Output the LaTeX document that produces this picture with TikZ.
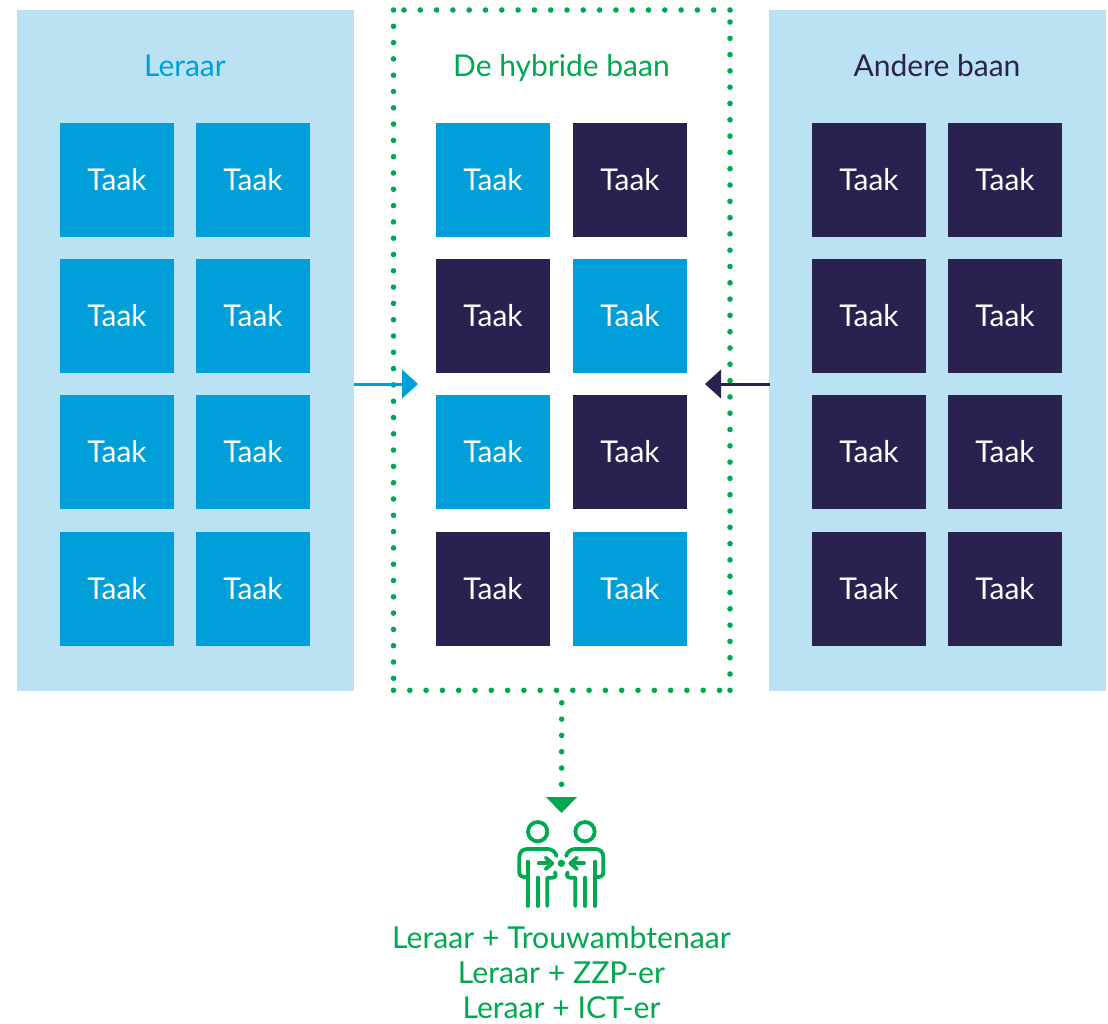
\documentclass[tikz,border=0pt]{standalone}
\usepackage{fontspec}
\setmainfont{Lato}
\usetikzlibrary{arrows.meta}
\definecolor{pale}{HTML}{BBE2F3}
\definecolor{lblue}{HTML}{009FDA}
\definecolor{navy}{HTML}{29214F}
\definecolor{hgreen}{HTML}{00A84F}
\tikzset{
  panel/.style={fill=pale,minimum width=337pt,minimum height=681pt,inner sep=0pt,outer sep=0pt},
  hybridbox/.style={minimum width=336.5pt,minimum height=680.3pt,inner sep=0pt,outer sep=0pt},
  dotline/.style={draw=hgreen,line width=5.6pt,line cap=round,dash pattern=on 0pt off 16.3pt},
  taskbox/.style={minimum size=114pt,inner sep=0pt,outer sep=0pt,text=white,font=\fontsize{30}{34}\selectfont},
  title/.style={anchor=base,inner sep=0pt,font=\fontsize{30}{34}\selectfont},
  caption/.style={anchor=base,inner sep=0pt,text=hgreen,font=\fontsize{30.2}{34}\selectfont},
  blueflow/.style={draw=lblue,line width=3pt,-{Triangle[length=16pt,width=29pt,line width=0pt,fill=lblue]}},
  navyflow/.style={draw=navy,line width=3pt,-{Triangle[length=16pt,width=29pt,line width=0pt,fill=navy]}},
  icon/.style={draw=hgreen,line width=3.8pt,line cap=round,line join=round},
}
\begin{document}
\begin{tikzpicture}[x=1pt,y=-1pt]
\useasboundingbox (0,0) rectangle (1108,1023);
% panels
\node[panel] (leraar) at (185.5,350.5) {};
\node[panel] (andere) at (937.5,350.5) {};
\node[hybridbox] (hybrid) at (561.75,350.15) {};
% dotted frame
\draw[dotline] (hybrid.north east) -- (hybrid.north west);
\draw[dotline] (hybrid.south east) -- (hybrid.north east);
\draw[dotline] (hybrid.north west) -- (hybrid.south west);
\draw[dotline] (hybrid.south west) -- (hybrid.south east);
% titles
\node[title,text=lblue] (t1) at (185,76) {Leraar};
\node[title,text=hgreen] (t2) at (561.5,76) {De hybride baan};
\node[title,text=navy] (t3) at (937,76) {Andere baan};
% tasks
\foreach \r/\y in {1/180,2/316,3/452,4/589}{
  \node[taskbox,fill=lblue] (la\r) at (117,\y) {\raisebox{1.6pt}{Taak}};
  \node[taskbox,fill=lblue] (lb\r) at (253,\y) {\raisebox{1.6pt}{Taak}};
  \node[taskbox,fill=navy] (ra\r) at (869,\y) {\raisebox{1.6pt}{Taak}};
  \node[taskbox,fill=navy] (rb\r) at (1005,\y) {\raisebox{1.6pt}{Taak}};
}
\foreach \r/\y/\ca/\cb in {1/180/lblue/navy,2/316/navy/lblue,3/452/lblue/navy,4/589/navy/lblue}{
  \node[taskbox,fill=\ca] (ma\r) at (493,\y) {\raisebox{1.6pt}{Taak}};
  \node[taskbox,fill=\cb] (mb\r) at (630,\y) {\raisebox{1.6pt}{Taak}};
}
% flows
\coordinate (lin) at (418,384);
\coordinate (rin) at (705,384);
\coordinate (lout) at (354,384);
\coordinate (rout) at (770,384);
\draw[blueflow] (lout) -- (lin);
\draw[navyflow] (rout) -- (rin);
% down connector
\coordinate (dend) at (561.5,813);
\coordinate (dtip) at (561.5,797);
\draw[dotline,dash phase=3.8pt] (hybrid.south) -- (dtip);
\fill[hgreen] (546,797) -- (577,797) -- (dend) -- cycle;
% icon
\begin{scope}[shift={(490,780)},x=0.3333pt,y=-0.3333pt]
  \foreach \m/\c in {1/0,-1/428}{
    \begin{scope}[xscale=\m,shift={(\c*\m,0)}]
      \draw[icon] (143,155) circle (29);
      \draw[icon] (113,245) -- (113,378);
      \draw[icon] (143,293) -- (143,378);
      \draw[icon] (172,378) -- (172,293) -- (187,293) .. controls (197,293) and (199,285) .. (195,277);
      \draw[icon] (200,228) .. controls (195,214) and (185,207) .. (172,207) -- (112,207) .. controls (97,207) and (88,217) .. (88,232) -- (88,278) .. controls (88,287) and (95,292) .. (113,292);
      \draw[icon] (146,250) -- (185,250);
      \draw[icon] (167,233) -- (187,250) -- (167,267);
    \end{scope}
  }
  \fill[hgreen] (214,250) circle (11);
\end{scope}
% caption
\node[caption] (c1) at (561.5,948) {Leraar + Trouwambtenaar};
\node[caption] (c2) at (561.5,983) {Leraar + ZZP-er};
\node[caption] (c3) at (561.5,1018.5) {Leraar + ICT-er};
\end{tikzpicture}
\end{document}
